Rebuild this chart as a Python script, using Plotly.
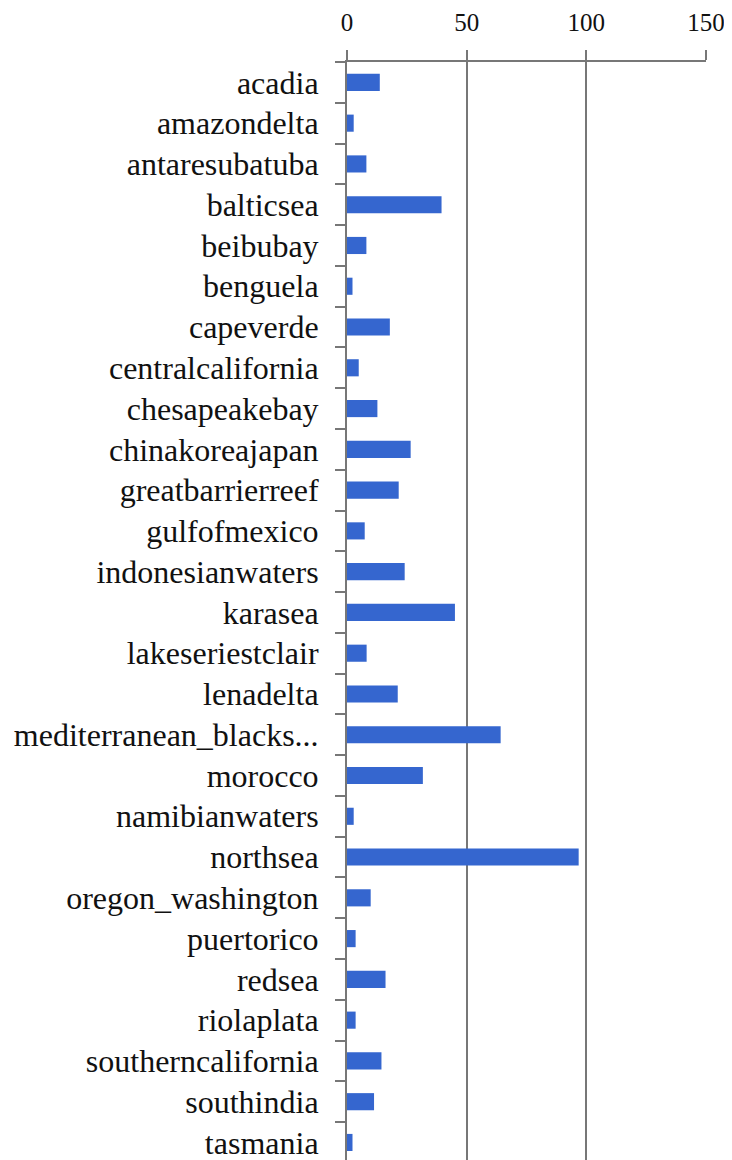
import plotly.graph_objects as go

categories = ["acadia", "amazondelta", "antaresubatuba", "balticsea", "beibubay", "benguela",
              "capeverde", "centralcalifornia", "chesapeakebay", "chinakoreajapan",
              "greatbarrierreef", "gulfofmexico", "indonesianwaters", "karasea",
              "lakeseriestclair", "lenadelta", "mediterranean_blacks...", "morocco",
              "namibianwaters", "northsea", "oregon_washington", "puertorico", "redsea",
              "riolaplata", "southerncalifornia", "southindia", "tasmania"]
values = [13.7, 2.8, 8.1, 39.5, 8.1, 2.3, 17.9, 4.9, 12.7, 26.6, 21.6, 7.4, 24.1, 45.1,
          8.2, 21.2, 64.2, 31.7, 2.8, 96.8, 9.9, 3.6, 16.1, 3.6, 14.4, 11.3, 2.3]
x_ticks = [0, 50, 100, 150]

FONT = "Liberation Serif"

fig = go.Figure(go.Bar(
    y=categories, x=values, orientation="h", width=0.42,
    marker=dict(color="#3566cf", line=dict(width=0)),
))

fig.update_layout(
    width=724, height=1152,
    margin=dict(l=339, r=26, t=54, b=0, autoexpand=False),
    paper_bgcolor="white", plot_bgcolor="white",
    showlegend=False,
    font=dict(family=FONT, color="#111111"),
)
fig.update_xaxes(
    side="top", range=[0, 150], tickvals=x_ticks, ticktext=[str(v) for v in x_ticks],
    showgrid=True, gridcolor="#777777", gridwidth=2,
    showline=True, linecolor="#777777", linewidth=2,
    ticks="outside", ticklen=10, tickwidth=2, tickcolor="#777777",
    tickfont=dict(size=25, family=FONT), zeroline=False, ticklabelstandoff=9,
    automargin=False,
)
fig.update_yaxes(
    type="category", categoryorder="array", categoryarray=categories,
    range=[26.43, -0.5], autorange=False,
    showline=True, linecolor="#777777", linewidth=2,
    ticks="outside", ticklen=10, tickwidth=2, tickcolor="#777777",
    tickson="boundaries", showgrid=False,
    tickfont=dict(size=32, family=FONT), ticklabelstandoff=20,
    automargin=False,
)

fig.write_html("out.html")
